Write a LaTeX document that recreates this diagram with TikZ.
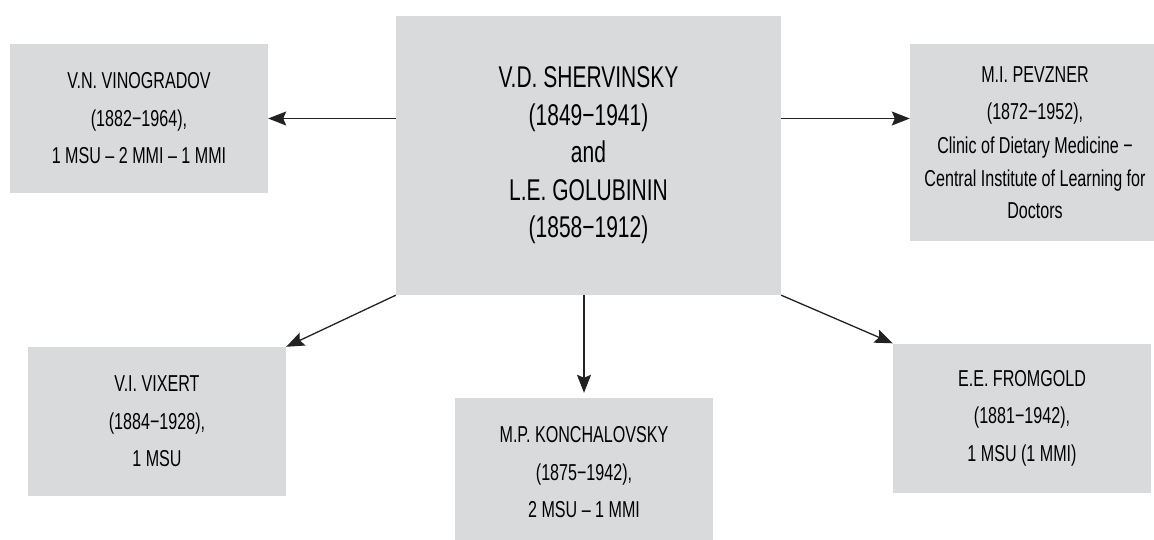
\documentclass[tikz,border=0pt]{standalone}
\usepackage{fontspec}
\setmainfont{Liberation Sans}[FakeStretch=0.7]
\usetikzlibrary{arrows.meta}
\definecolor{boxgray}{RGB}{217,218,220}
\definecolor{arrowink}{RGB}{34,34,34}
\begin{document}
\begin{tikzpicture}[x=1pt,y=-1pt,
	box/.style={fill=boxgray, draw=none, align=center, inner sep=0pt,
		minimum width=258pt, minimum height=149pt,
		font=\fontsize{23}{37.5}\selectfont},
	arr/.style={-{Stealth[length=18pt,width=14pt,inset=3pt]}, line width=1.3pt, draw=arrowink}]
	\useasboundingbox (0,0) rectangle (1154,540);
	% Centre
	\node[box, minimum width=385pt, minimum height=279pt,
		font=\fontsize{30}{37.5}\selectfont] (sherv) at (588.5,155.5)
		{V.D. SHERVINSKY\\(1849−1941)\\and\\L.E. GOLUBININ\\(1858−1912)};
	% Top row
	\node[box] (vino) at (139,118.5) {V.N. VINOGRADOV\\(1882−1964),\\1 MSU -- 2 MMI -- 1 MMI};
	\node[box, minimum width=250pt, minimum height=197pt] (pevz) at (1035,142.5)
		{M.I. PEVZNER\\(1872−1952),\\[-4pt]Clinic of Dietary Medicine −\\[-4pt]Central Institute of Learning for\\[-6pt]Doctors};
	% Bottom row
	\node[box] (vixert) at (157,421.5) {V.I. VIXERT\\(1884−1928),\\1 MSU};
	\node[box] (konch) at (584,472.5) {M.P. KONCHALOVSKY\\(1875−1942),\\2 MSU -- 1 MMI};
	\node[box] (fromg) at (1022,418) {E.E. FROMGOLD\\(1881−1942),\\1 MSU (1 MMI)};
	% Arrows
	\draw[arr] (vino.east -| sherv.west) -- (vino.east);
	\draw[arr] (sherv.east |- vino.east) -- (pevz.west |- vino.east);
	\draw[arr] (sherv.south west) -- (vixert.north east);
	\draw[arr, shorten >=5pt] (sherv.south -| konch.north) -- (konch.north);
	\draw[arr] (sherv.south east) -- (fromg.north west);
\end{tikzpicture}
\end{document}
